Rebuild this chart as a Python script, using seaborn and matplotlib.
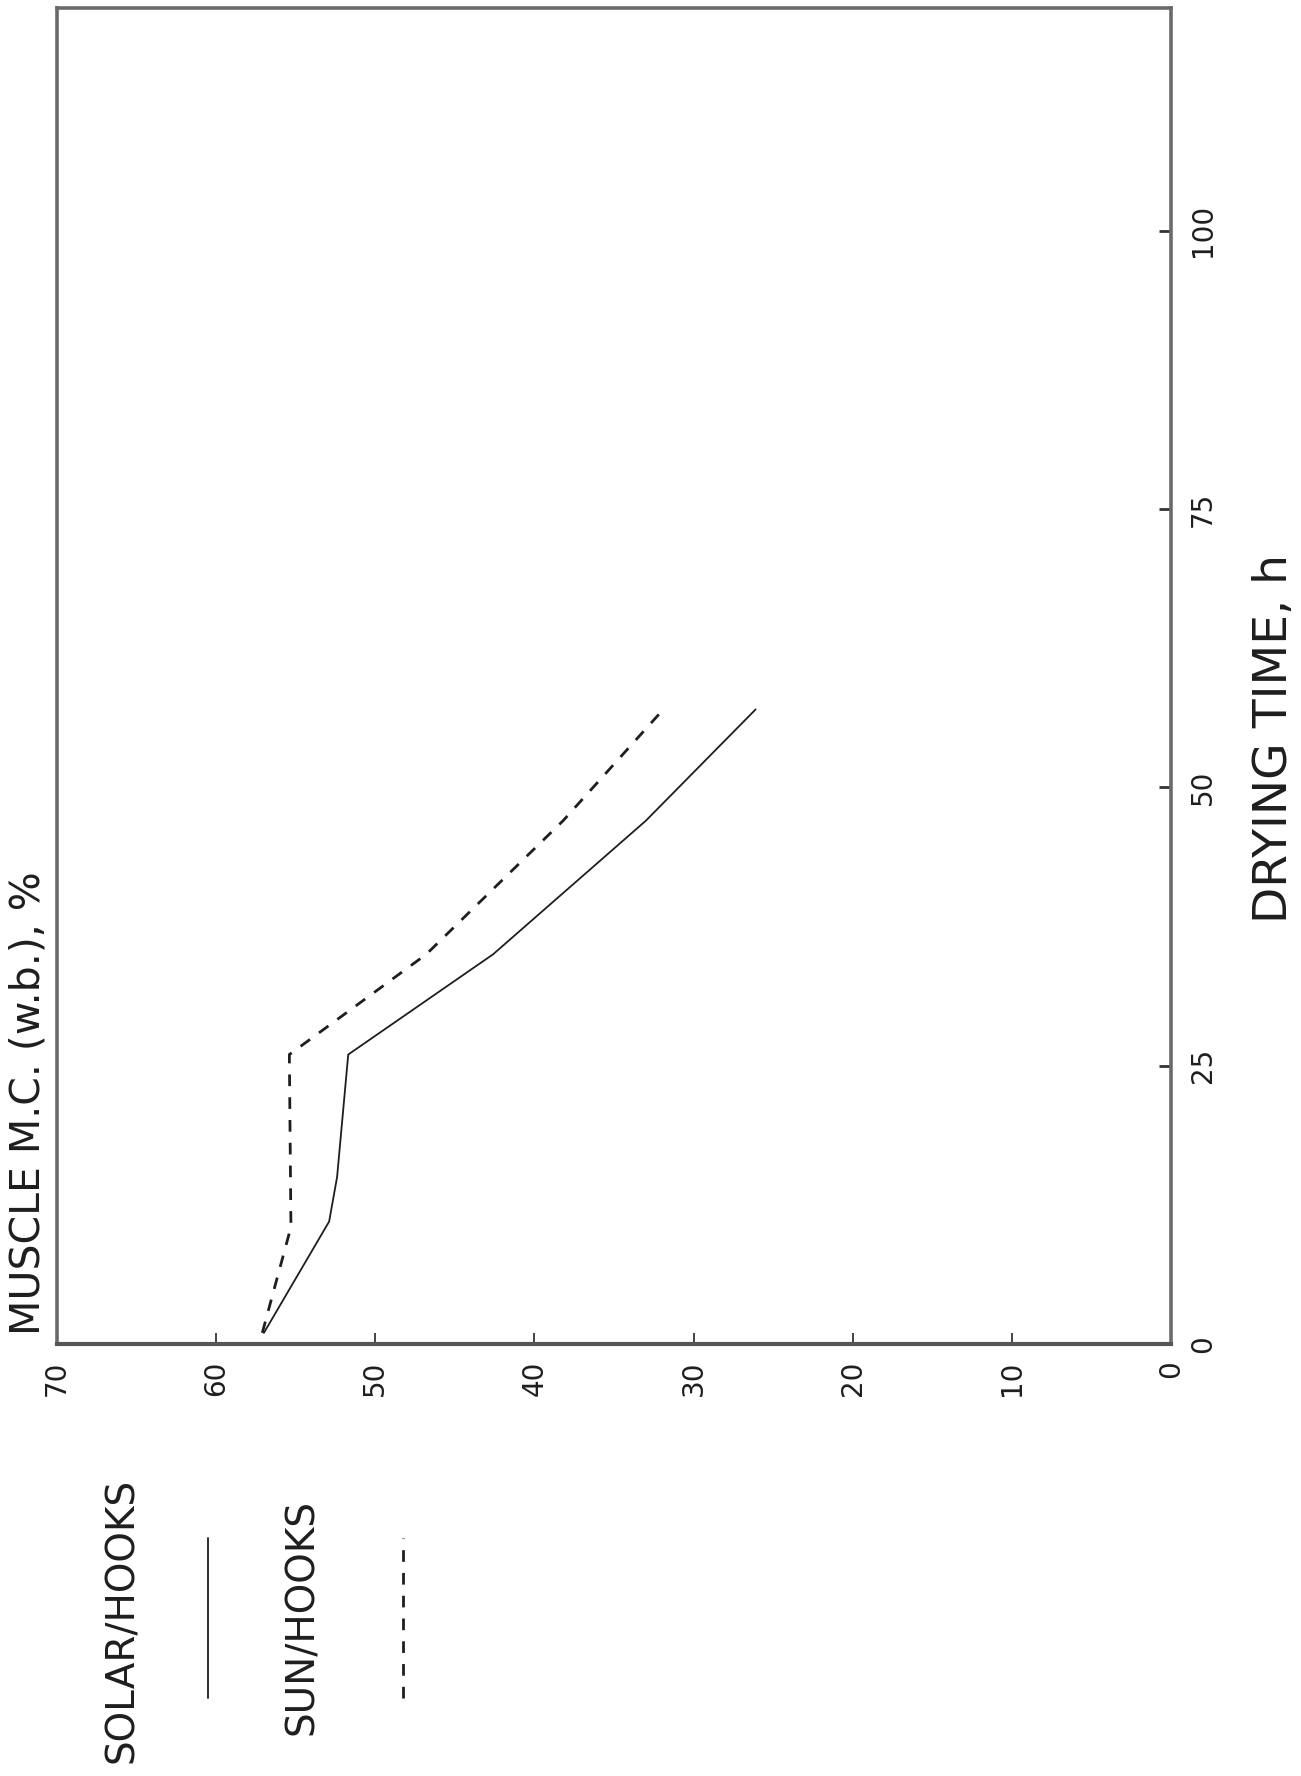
import matplotlib
matplotlib.use("Agg")
import matplotlib.pyplot as plt
from matplotlib.lines import Line2D
import seaborn as sns
import pandas as pd

# ---- data ----
solar_time = [1, 11, 15, 26, 35, 47, 57]
solar_mc = [57.0, 52.9, 52.4, 51.7, 42.6, 33.0, 26.1]
sun_time = [1, 10.5, 26, 35, 47, 57]
sun_mc = [57.1, 55.3, 55.4, 46.8, 38.2, 31.9]

mc_ticks = [70, 60, 50, 40, 30, 20, 10, 0]
mc_tick_labels = ["70", "60", "50", "40", "30", "20", "10", "0"]
time_ticks = [0, 25, 50, 75, 100]
time_tick_labels = ["0", "25", "50", "75", "100"]

series_names = ["SOLAR/HOOKS", "SUN/HOOKS"]
xlabel_text = "MUSCLE M.C. (w.b.), %"
ylabel_text = "DRYING TIME, h"

solar_df = pd.DataFrame({"time": solar_time, "mc": solar_mc})
sun_df = pd.DataFrame({"time": sun_time, "mc": sun_mc})

sns.set_theme(style="white")
plt.rcParams["font.family"] = ["DejaVu Sans"]

W, H = 1301, 1776
fig = plt.figure(figsize=(W / 100, H / 100), dpi=100)
fig.patch.set_facecolor("white")
left, right, top, bottom = 57, 1171, 8, 1344
ax = fig.add_axes([left / W, 1 - bottom / H, (right - left) / W, (bottom - top) / H])
ax.set_facecolor("white")

ink = "#1e1e1e"
sns.lineplot(data=solar_df, x="mc", y="time", sort=False, estimator=None,
             color=ink, linewidth=1.3, ax=ax)
sns.lineplot(data=sun_df, x="mc", y="time", sort=False, estimator=None,
             color=ink, linewidth=2.0, linestyle=(0, (4.2, 4.0)), ax=ax)

ax.set_xlim(70, 0)
ax.set_ylim(0, 120)
ax.set_xlabel("")
ax.set_ylabel("")

ax.set_xticks(mc_ticks)
ax.set_xticklabels(mc_tick_labels, rotation=90, fontsize=20, color=ink)
ax.yaxis.tick_right()
ax.set_yticks(time_ticks)
ax.set_yticklabels(time_tick_labels, rotation=90, fontsize=20, color=ink, va="center")
ax.tick_params(axis="x", direction="in", length=8, width=1.4, color="#444444",
               bottom=True, top=False, pad=12)
ax.tick_params(axis="y", direction="in", length=9, width=2.0, color="#333333",
               left=False, right=True, labelleft=False, labelright=True, pad=13)

for s in ax.spines.values():
    s.set_color("#6a6a6a")
    s.set_linewidth(2.6)
ax.spines["bottom"].set_color("#555555")
ax.spines["bottom"].set_linewidth(3.0)

# axis titles (rotated chart)
fig.text(29 / W, 1 - 1103 / H, xlabel_text, rotation=90, ha="center", va="center",
         fontsize=29.5, color=ink)
fig.text(1274 / W, 1 - 738 / H, ylabel_text, rotation=90, ha="center", va="center",
         fontsize=34, color=ink)

# legend
fig.text(122 / W, 1 - 1620 / H, series_names[0], rotation=90, ha="center", va="center",
         fontsize=28, color=ink)
fig.text(302 / W, 1 - 1617 / H, series_names[1], rotation=90, ha="center", va="center",
         fontsize=28, color=ink)
fig.add_artist(Line2D([208 / W, 208 / W], [1 - 1698 / H, 1 - 1538 / H],
                      transform=fig.transFigure, color=ink, linewidth=1.3))
fig.add_artist(Line2D([403 / W, 403 / W], [1 - 1698 / H, 1 - 1538 / H],
                      transform=fig.transFigure, color=ink, linewidth=2.0,
                      linestyle=(0, (4.2, 4.0))))

fig.savefig("out.png", dpi=100, facecolor="white")
